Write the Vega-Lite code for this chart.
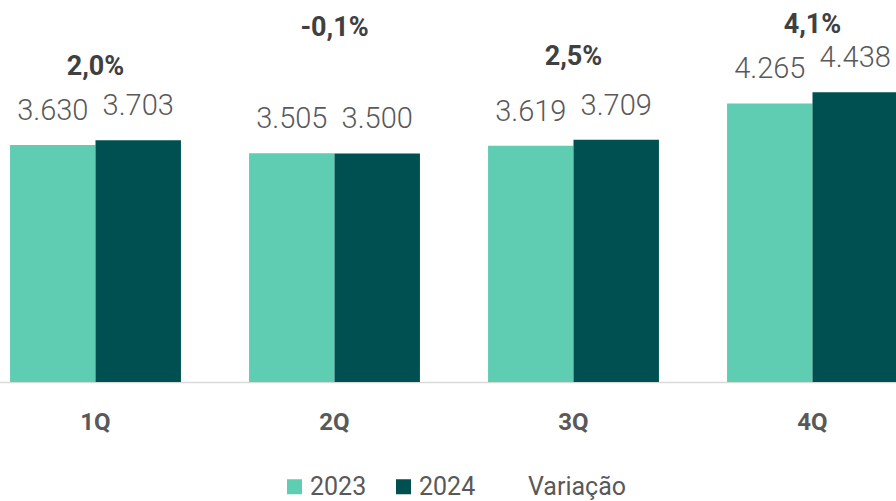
{
  "$schema": "https://vega.github.io/schema/vega-lite/v6.json",
  "width": 956,
  "height": 382,
  "autosize": {"type": "none"},
  "padding": {"left": -24, "top": 0, "right": -36, "bottom": 119},
  "background": "white",
  "config": {"view": {"stroke": null}, "font": "Roboto"},
  "datasets": {
    "barras": [
      {"trimestre": "1Q", "serie": "2023", "valor": 3630, "texto": "3.630"},
      {"trimestre": "1Q", "serie": "2024", "valor": 3703, "texto": "3.703"},
      {"trimestre": "2Q", "serie": "2023", "valor": 3505, "texto": "3.505"},
      {"trimestre": "2Q", "serie": "2024", "valor": 3500, "texto": "3.500"},
      {"trimestre": "3Q", "serie": "2023", "valor": 3619, "texto": "3.619"},
      {"trimestre": "3Q", "serie": "2024", "valor": 3709, "texto": "3.709"},
      {"trimestre": "4Q", "serie": "2023", "valor": 4265, "texto": "4.265"},
      {"trimestre": "4Q", "serie": "2024", "valor": 4438, "texto": "4.438"}
    ],
    "variacao": [
      {"trimestre": "1Q", "rotulo": "2,0%", "linha": 4702},
      {"trimestre": "2Q", "rotulo": "-0,1%", "linha": 5299},
      {"trimestre": "3Q", "rotulo": "2,5%", "linha": 4855},
      {"trimestre": "4Q", "rotulo": "4,1%", "linha": 5345}
    ]
  },
  "layer": [
    {
      "data": {"name": "barras"},
      "mark": {"type": "bar"},
      "encoding": {
        "x": {
          "field": "trimestre", "type": "nominal", "sort": ["1Q", "2Q", "3Q", "4Q"],
          "scale": {"paddingInner": 0.285, "paddingOuter": 0.1425},
          "axis": {
            "title": null, "labelAngle": 0, "labelFontSize": 24, "labelFontWeight": "bold",
            "labelColor": "#595959", "labelPadding": 28, "ticks": false, "grid": false,
            "domainColor": "#D9D9D9", "domainWidth": 1.5
          }
        },
        "xOffset": {"field": "serie", "type": "nominal", "sort": ["2023", "2024"]},
        "y": {"field": "valor", "type": "quantitative", "scale": {"domain": [0, 5850], "nice": false}, "axis": null},
        "color": {
          "field": "serie", "type": "nominal",
          "scale": {"domain": ["2023", "2024", "Variação"], "range": ["#5ECDB1", "#004F51", "transparent"]},
          "legend": {
            "title": null, "orient": "none", "legendX": 306, "legendY": 474, "direction": "horizontal",
            "symbolType": "square", "symbolSize": 225, "symbolStrokeWidth": 0,
            "labelFontSize": 25, "labelColor": "#595959", "labelOffset": 3, "columnPadding": 24, "padding": 0
          }
        }
      }
    },
    {
      "data": {"name": "barras"},
      "mark": {"type": "text", "baseline": "alphabetic", "dy": -25, "fontSize": 29, "fontWeight": 300, "color": "#595959"},
      "encoding": {
        "x": {"field": "trimestre", "type": "nominal", "sort": ["1Q", "2Q", "3Q", "4Q"]},
        "xOffset": {"field": "serie", "type": "nominal", "sort": ["2023", "2024"]},
        "y": {"field": "valor", "type": "quantitative"},
        "text": {"field": "texto", "type": "nominal"}
      }
    },
    {
      "data": {"name": "variacao"},
      "mark": {"type": "text", "baseline": "alphabetic", "fontSize": 27, "fontWeight": "bold", "color": "#404040"},
      "encoding": {
        "x": {"field": "trimestre", "type": "nominal", "sort": ["1Q", "2Q", "3Q", "4Q"]},
        "y": {"field": "linha", "type": "quantitative"},
        "text": {"field": "rotulo", "type": "nominal"}
      }
    }
  ]
}
